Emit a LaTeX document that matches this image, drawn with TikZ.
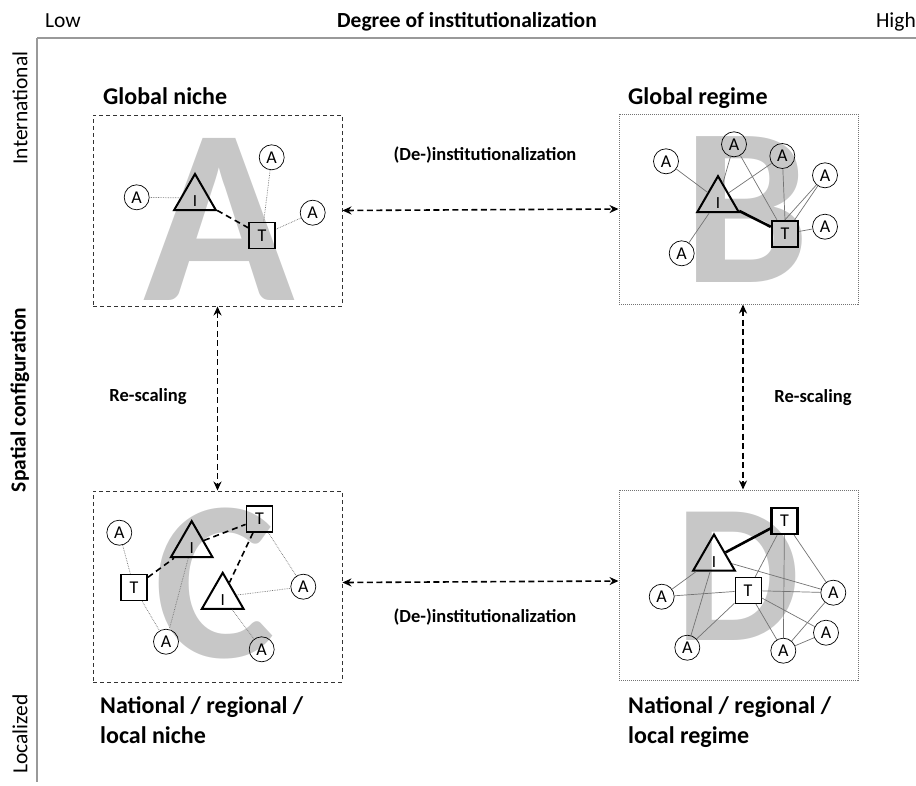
\documentclass[tikz,border=0pt]{standalone}
\usepackage{fontspec}
\setmainfont{Carlito}
\usetikzlibrary{arrows.meta,shapes.geometric}

\begin{document}
\begin{tikzpicture}[x=1pt,y=-1pt,
  axisline/.style={line width=1.2pt,black!40},
  axislabel/.style={font=\fontsize{21.5}{24}\selectfont},
  quadtitle/.style={font=\fontsize{24}{30}\selectfont\bfseries,align=left,anchor=base west,inner sep=0pt},
  shiftlabel/.style={font=\fontsize{18.5}{22}\selectfont\bfseries},
  nichebox/.style={draw=black!80,dash pattern=on 4pt off 3pt,line width=0.9pt,minimum width=249pt,minimum height=191pt},
  regimebox/.style={draw=black!55,densely dotted,line width=1pt,minimum width=239pt,minimum height=190pt},
  bigletter/.style={text=black!22,font=\fontsize{#1}{#1}\selectfont\bfseries,anchor=base,inner sep=0pt},
  actor/.style={circle,draw,line width=0.7pt,minimum size=25pt,inner sep=0pt,font=\fontsize{18}{18}\selectfont},
  tech/.style={rectangle,draw,line width=1.8pt,minimum size=26pt,inner sep=0pt,font=\fontsize{18}{18}\selectfont},
  inst/.style={regular polygon,regular polygon sides=3,draw,line width=2pt,minimum size=37pt,inner sep=0pt,
    text height=17pt,text depth=0pt,font=\fontsize{17}{17}\selectfont},
  weak/.style={black!55,densely dotted,line width=0.7pt},
  tie/.style={black!55,line width=0.7pt},
  loose/.style={dash pattern=on 6pt off 4pt,line width=1.6pt},
  strong/.style={line width=2.6pt},
  twoway/.style={dash pattern=on 6pt off 3.5pt,line width=1.6pt,
    {Stealth[length=9pt,width=8pt]}-{Stealth[length=9pt,width=8pt]}}
]
\useasboundingbox (0,0) rectangle (916,785);

\draw[axisline] (37,38) -- (916,38);
\draw[axisline] (37,38) -- (37,782);
\node[axislabel,anchor=base west,inner sep=0pt] (low) at (45,27) {Low};
\node[axislabel,anchor=base,inner sep=0pt] (degree) at (467,27) {\bfseries Degree of institutionalization};
\node[axislabel,anchor=base east,inner sep=0pt] (high) at (916,27) {High};
\node[axislabel,rotate=90] (intl) at (20,108) {International};
\node[axislabel,rotate=90] (spatial) at (20,400) {\bfseries Spatial configuration};
\node[axislabel,rotate=90] (local) at (20,734) {Localized};

\node[nichebox] (boxA) at (217.5,210.5) {};
\node[regimebox] (boxB) at (738.5,209) {};
\node[nichebox] (boxC) at (217.5,586.5) {};
\node[regimebox] (boxD) at (738.5,585) {};

\node[bigletter=250] (letA) at (219,300) {A};
\node[bigletter=225] (letB) at (747,282) {B};
\node[bigletter=228] (letC) at (215,657) {C};
\node[bigletter=198] (letD) at (738,640) {D};

\node[quadtitle] (titA) at (103,104) {Global niche};
\node[quadtitle] (titB) at (628,104) {Global regime};
\node[quadtitle] (titC) at (100,743) {National / regional /\\local niche};
\node[quadtitle] (titD) at (628,743) {National / regional /\\local regime};

\draw[twoway] (boxA.east) -- (boxB.west);
\draw[twoway] ([yshift=4pt]boxC.east) -- ([yshift=4pt]boxD.west);
\draw[twoway] (boxA.south) -- (boxC.north);
\draw[twoway] ([xshift=4.5pt]boxB.south) -- ([xshift=4.5pt]boxD.north);
\node[shiftlabel] (instTop) at (485,155) {(De-)institutionalization};
\node[shiftlabel] (instBot) at (485,617) {(De-)institutionalization};
\node[shiftlabel] (scaleL) at (148,397) {Re-scaling};
\node[shiftlabel] (scaleR) at (813,398) {Re-scaling};

\node[inst] (IA) at (195,198) {I};
\node[tech] (TA) at (262,235.5) {T};
\node[actor] (a1) at (136.7,197.3) {A};
\node[actor] (a2) at (271.7,157.3) {A};
\node[actor] (a3) at (312.7,212.7) {A};
\draw[weak] (a1) -- (IA);
\draw[weak] (a2) -- (TA);
\draw[weak] (a3) -- (TA);
\draw[loose] (IA) -- (TA);

\node[inst] (IB) at (718,200.2) {I};
\node[tech,line width=2.4pt] (TB) at (785,234) {T};
\node[actor] (b1) at (666,161.3) {A};
\node[actor] (b2) at (734,144.3) {A};
\node[actor] (b3) at (782.3,156) {A};
\node[actor] (b4) at (825,175.3) {A};
\node[actor] (b5) at (825,226.7) {A};
\node[actor] (b6) at (681.7,253.3) {A};
\draw[tie] (b1) -- (IB);
\draw[tie] (b2) -- (IB);
\draw[tie] (b2) -- (TB);
\draw[tie] (b3) -- (IB);
\draw[tie] (b3) -- (TB.north);
\draw[tie] (b4) -- (TB.north);
\draw[tie] (b4) -- (TB);
\draw[tie] (b5) -- (TB);
\draw[tie] (b6) -- (IB);
\draw[strong] (IB) -- (TB);

\node[actor] (c1) at (119.3,532.7) {A};
\node[tech] (TC1) at (134,587.5) {T};
\node[inst] (IC1) at (191.7,545.2) {I};
\node[tech] (TC2) at (259.5,519) {T};
\node[inst] (IC2) at (222.7,596.8) {I};
\node[actor] (c2) at (303.3,586.7) {A};
\node[actor] (c3) at (166,641.7) {A};
\node[actor] (c4) at (261.7,649.3) {A};
\draw[weak] (c1) -- (TC1);
\draw[weak] (TC1) -- (c3);
\draw[weak] (IC1) -- (c3);
\draw[weak] (TC2) -- (c2);
\draw[weak] (IC2) -- (c2);
\draw[weak] (IC2) -- (c4);
\draw[loose] (TC1) -- (IC1);
\draw[loose] (IC1) -- (TC2);
\draw[loose] (TC2) -- (IC2);

\node[tech,line width=2.2pt] (TD1) at (784.5,521) {T};
\node[inst] (ID) at (714,558.5) {I};
\node[tech,line width=1pt] (TD2) at (748,590.5) {T};
\node[actor] (d1) at (661.7,596.7) {A};
\node[actor] (d2) at (687.3,647.7) {A};
\node[actor] (d3) at (833.3,592.7) {A};
\node[actor] (d4) at (826,632.7) {A};
\node[actor] (d5) at (783.3,650.7) {A};
\draw[tie] (TD1) -- (TD2);
\draw[tie] (TD1) -- (d5);
\draw[tie] (TD1) -- (d3);
\draw[tie] (ID) -- (d1);
\draw[tie] (ID) -- (d2);
\draw[tie] (ID) -- (d3);
\draw[tie] (d1) -- (TD2);
\draw[tie] (TD2) -- (d3);
\draw[tie] (TD2) -- (d2);
\draw[tie] (TD2) -- (d5);
\draw[tie] (TD2) -- (d4);
\draw[tie] (d5) -- (d4);
\draw[tie] (d5) -- (d3);
\draw[strong] (TD1) -- (ID);
\end{tikzpicture}
\end{document}
